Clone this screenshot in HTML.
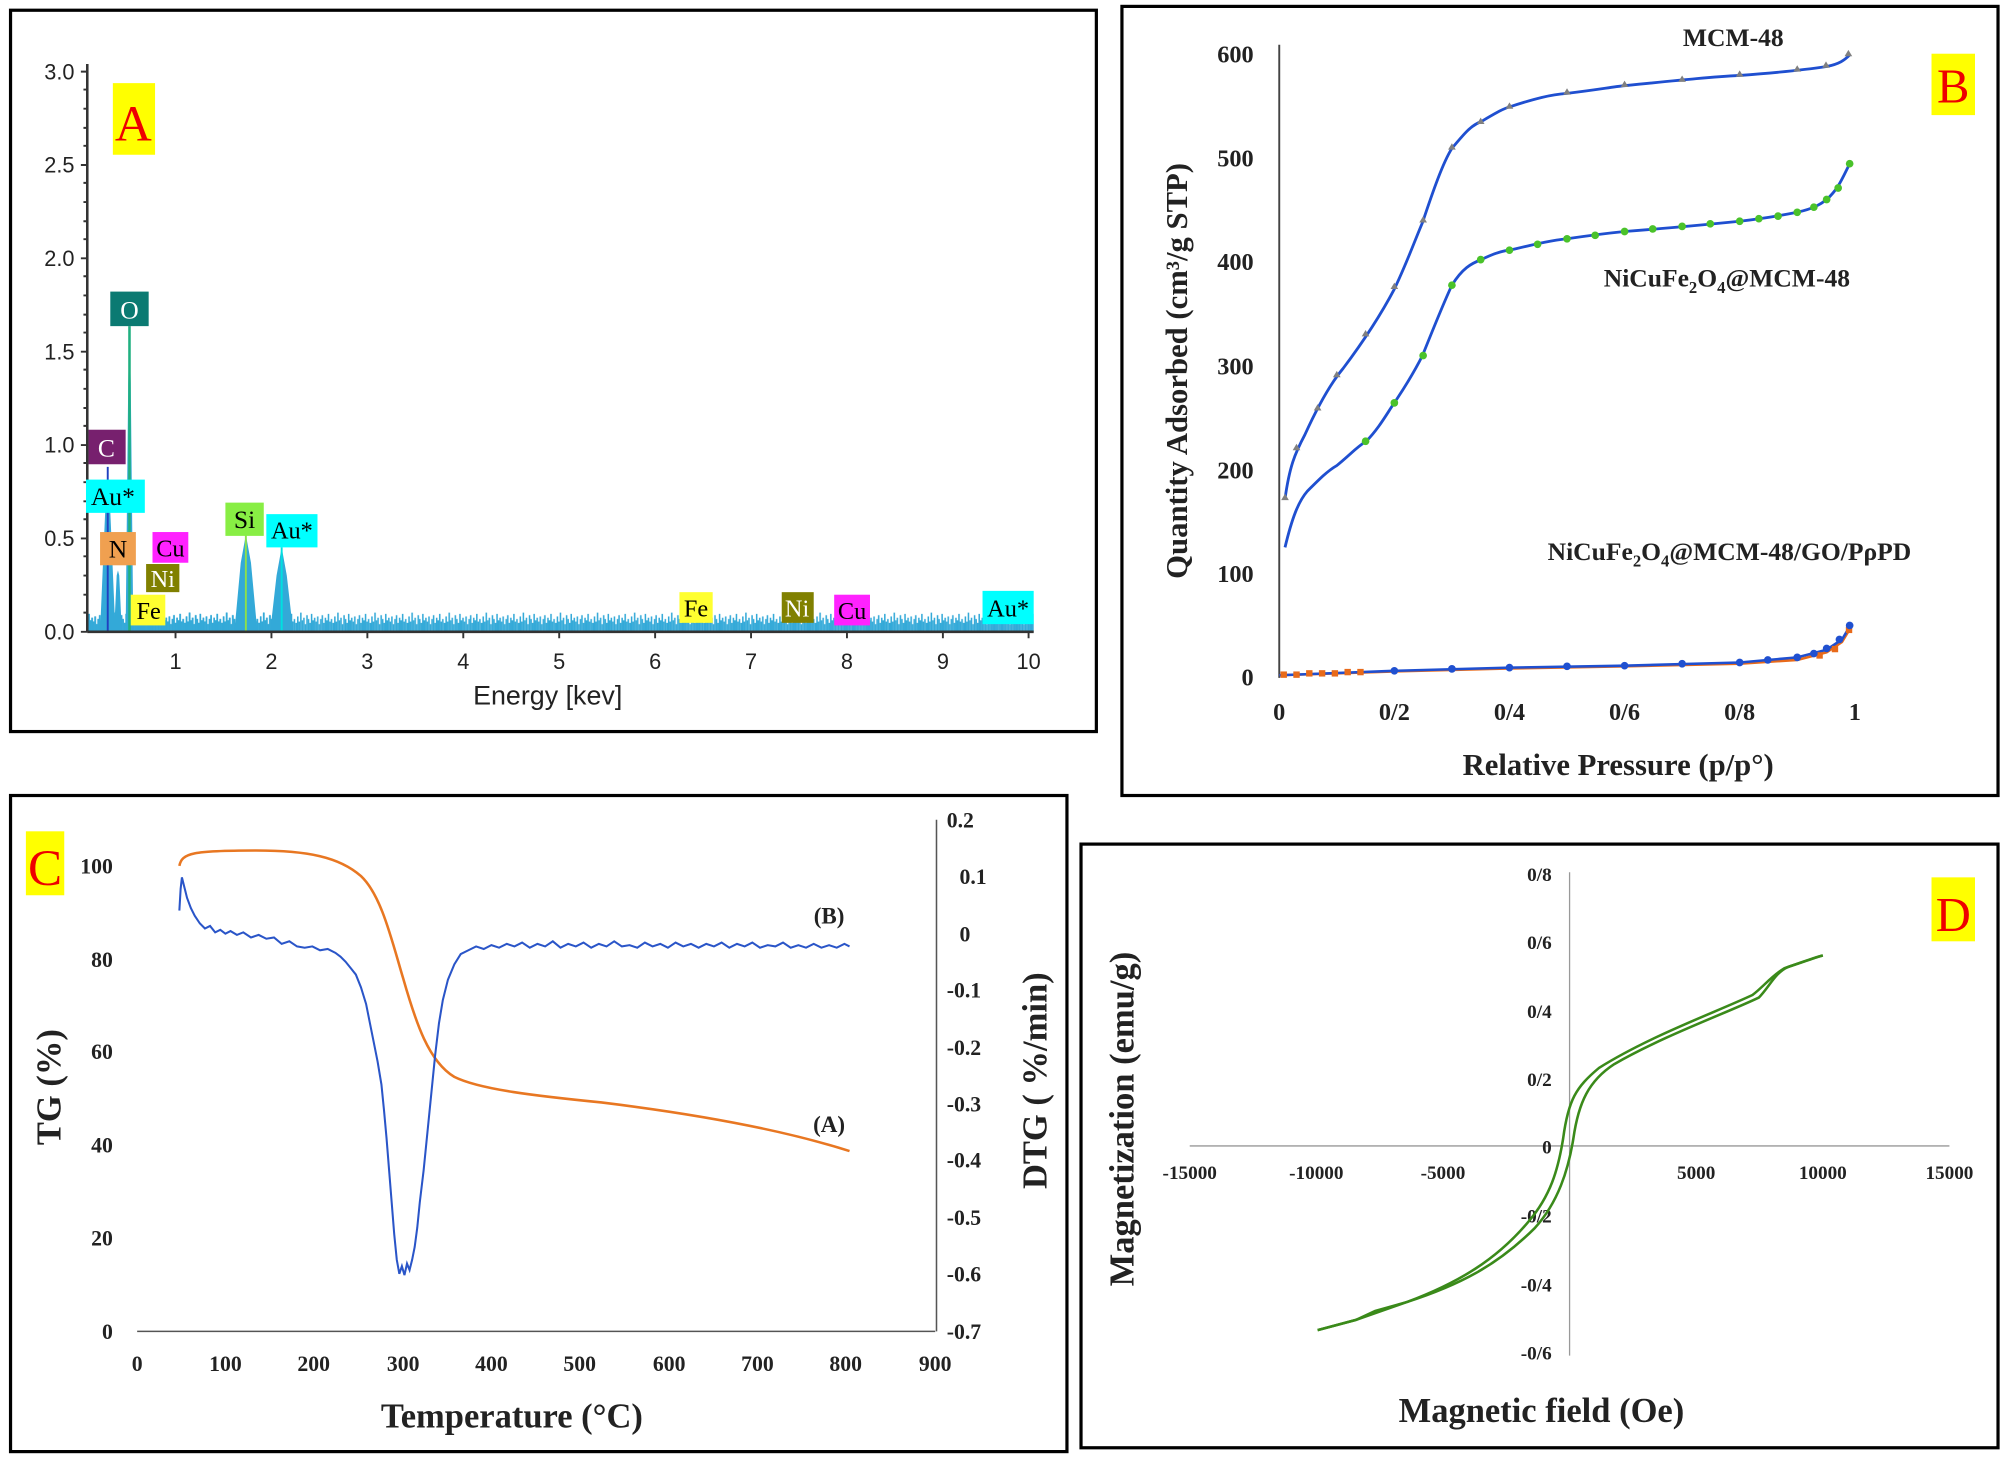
<!DOCTYPE html><html><head><meta charset="utf-8"><style>html,body{margin:0;padding:0;background:#fff}svg{display:block}</style></head><body>
<svg width="2006" height="1458" viewBox="0 0 1568 1140" xmlns="http://www.w3.org/2000/svg" font-family="Liberation Serif, serif">
<defs>
<pattern id="noise" x="0" y="494" width="29" height="30" patternUnits="userSpaceOnUse">
<rect x="0" y="18" width="1.2" height="12" fill="#33a9d8"/><rect x="1.2" y="22" width="1.2" height="8" fill="#33a9d8"/><rect x="2.4" y="15" width="1.2" height="15" fill="#33a9d8"/><rect x="3.6" y="21" width="1.2" height="9" fill="#33a9d8"/><rect x="4.8" y="19" width="1.2" height="11" fill="#33a9d8"/><rect x="6" y="24" width="1.2" height="6" fill="#33a9d8"/><rect x="7.2" y="17" width="1.2" height="13" fill="#33a9d8"/><rect x="8.4" y="20" width="1.2" height="10" fill="#33a9d8"/><rect x="9.6" y="23" width="1.2" height="7" fill="#33a9d8"/><rect x="10.8" y="16" width="1.2" height="14" fill="#33a9d8"/><rect x="12" y="21" width="1.2" height="9" fill="#33a9d8"/><rect x="13.2" y="19" width="1.2" height="11" fill="#33a9d8"/><rect x="14.4" y="22" width="1.2" height="8" fill="#33a9d8"/><rect x="15.6" y="18" width="1.2" height="12" fill="#33a9d8"/><rect x="16.8" y="24" width="1.2" height="6" fill="#33a9d8"/><rect x="18" y="20" width="1.2" height="10" fill="#33a9d8"/><rect x="19.2" y="17" width="1.2" height="13" fill="#33a9d8"/><rect x="20.4" y="23" width="1.2" height="7" fill="#33a9d8"/><rect x="21.6" y="19" width="1.2" height="11" fill="#33a9d8"/><rect x="22.8" y="21" width="1.2" height="9" fill="#33a9d8"/><rect x="24" y="16" width="1.2" height="14" fill="#33a9d8"/><rect x="25.2" y="22" width="1.2" height="8" fill="#33a9d8"/><rect x="26.4" y="20" width="1.2" height="10" fill="#33a9d8"/><rect x="27.6" y="23" width="1.4" height="7" fill="#33a9d8"/>
</pattern>
</defs>
<rect width="1568" height="1140" fill="#fff"/>
<!-- Panel A -->
<rect x="8" y="8" width="849" height="564" fill="none" stroke="#000" stroke-width="2.5"/>
<g font-family="Liberation Sans, sans-serif" font-size="17" fill="#222">
<rect x="69" y="470" width="739" height="24" fill="url(#noise)"/>
<rect x="69" y="466" width="160" height="28" fill="url(#noise)" transform="translate(0,0)"/>
<path d="M78,494 L82,400 L84,384 L86,400 L90,494 Z M89,494 L91,450 L92,446 L93,450 L95,494 Z M98,494 L100,300 L101,258 L102,300 L104,494 Z M183,494 L188,440 L192,418 L196,440 L201,494 Z M211,494 L216,450 L220,428 L224,450 L229,494 Z" fill="#33a9d8"/>
<line x1="101" y1="494" x2="101" y2="255" stroke="#20b080" stroke-width="2"/>
<line x1="84" y1="494" x2="84" y2="365" stroke="#2040c0" stroke-width="1.5"/>
<line x1="192" y1="494" x2="192" y2="418" stroke="#8de04a" stroke-width="1.5"/>
<line x1="220" y1="494" x2="220" y2="428" stroke="#00e0e0" stroke-width="1.5"/>
<line x1="68" y1="50" x2="68" y2="494" stroke="#333" stroke-width="2"/>
<line x1="68" y1="494" x2="808" y2="494" stroke="#333" stroke-width="2"/>
<path d="M63,494h5M63,421h5M63,348h5M63,275h5M63,202h5M63,129h5M63,56h5M65,479h3M65,465h3M65,450h3M65,435h3M65,406h3M65,392h3M65,377h3M65,362h3M65,333h3M65,319h3M65,304h3M65,289h3M65,260h3M65,246h3M65,231h3M65,216h3M65,187h3M65,173h3M65,158h3M65,143h3M65,114h3M65,100h3M65,85h3M65,70h3" stroke="#333" stroke-width="1.5"/>
<path d="M137,494v5M212,494v5M287,494v5M362,494v5M437,494v5M512,494v5M587,494v5M662,494v5M737,494v5M804,494v5" stroke="#333" stroke-width="1.5"/>
<g text-anchor="end"><text x="58" y="500">0.0</text><text x="58" y="427">0.5</text><text x="58" y="354">1.0</text><text x="58" y="281">1.5</text><text x="58" y="208">2.0</text><text x="58" y="135">2.5</text><text x="58" y="62">3.0</text></g>
<g text-anchor="middle"><text x="137" y="523">1</text><text x="212" y="523">2</text><text x="287" y="523">3</text><text x="362" y="523">4</text><text x="437" y="523">5</text><text x="512" y="523">6</text><text x="587" y="523">7</text><text x="662" y="523">8</text><text x="737" y="523">9</text><text x="804" y="523">10</text></g>
<text x="428" y="551" text-anchor="middle" font-size="21">Energy [kev]</text>
<rect x="88" y="65" width="33" height="56" fill="#ffff00"/><text x="104" y="110" text-anchor="middle" font-family="Liberation Serif, serif" font-size="40" fill="#e00">A</text>
<rect x="86" y="228" width="30" height="27" fill="#0b7a72"/><text x="101" y="249" text-anchor="middle" fill="#fff" font-size="20" font-family="Liberation Serif, serif">O</text>
<rect x="69" y="336" width="29" height="27" fill="#77206e"/><text x="83" y="357" text-anchor="middle" fill="#fff" font-size="20" font-family="Liberation Serif, serif">C</text>
<rect x="67" y="375" width="46" height="26" fill="#00ffff"/><text x="88" y="395" text-anchor="middle" fill="#000" font-size="20" font-family="Liberation Serif, serif">Au*</text>
<rect x="78" y="416" width="28" height="26" fill="#f0a050"/><text x="92" y="436" text-anchor="middle" fill="#000" font-size="20" font-family="Liberation Serif, serif">N</text>
<rect x="119" y="416" width="28" height="24" fill="#ff22ff"/><text x="133" y="435" text-anchor="middle" fill="#000" font-size="19" font-family="Liberation Serif, serif">Cu</text>
<rect x="114" y="441" width="26" height="22" fill="#808000"/><text x="127" y="459" text-anchor="middle" fill="#fff" font-size="19" font-family="Liberation Serif, serif">Ni</text>
<rect x="102" y="465" width="27" height="24" fill="#ffff30"/><text x="116" y="484" text-anchor="middle" fill="#000" font-size="19" font-family="Liberation Serif, serif">Fe</text>
<rect x="176" y="393" width="30" height="26" fill="#88ee44"/><text x="191" y="413" text-anchor="middle" fill="#000" font-size="20" font-family="Liberation Serif, serif">Si</text>
<rect x="208" y="402" width="40" height="26" fill="#00ffff"/><text x="228" y="421" text-anchor="middle" fill="#000" font-size="19" font-family="Liberation Serif, serif">Au*</text>
<rect x="531" y="463" width="26" height="24" fill="#ffff30"/><text x="544" y="482" text-anchor="middle" fill="#000" font-size="19" font-family="Liberation Serif, serif">Fe</text>
<rect x="611" y="463" width="25" height="24" fill="#808000"/><text x="623" y="482" text-anchor="middle" fill="#fff" font-size="19" font-family="Liberation Serif, serif">Ni</text>
<rect x="652" y="465" width="28" height="24" fill="#ff22ff"/><text x="666" y="484" text-anchor="middle" fill="#000" font-size="19" font-family="Liberation Serif, serif">Cu</text>
<rect x="768" y="462" width="40" height="26" fill="#00ffff"/><text x="788" y="482" text-anchor="middle" fill="#000" font-size="19" font-family="Liberation Serif, serif">Au*</text>
</g>
<!-- Panel B -->
<rect x="877" y="5" width="685" height="617" fill="none" stroke="#000" stroke-width="2.5"/>
<g font-weight="bold" font-size="19" fill="#222">
<line x1="1000" y1="35" x2="1000" y2="530" stroke="#444" stroke-width="1.5"/>
<g text-anchor="end"><text x="980" y="536">0</text><text x="980" y="455">100</text><text x="980" y="374">200</text><text x="980" y="293">300</text><text x="980" y="211">400</text><text x="980" y="130">500</text><text x="980" y="49">600</text></g>
<g text-anchor="middle"><text x="1000" y="563">0</text><text x="1090" y="563">0/2</text><text x="1180" y="563">0/4</text><text x="1270" y="563">0/6</text><text x="1360" y="563">0/8</text><text x="1450" y="563">1</text></g>
<text x="1265" y="606" text-anchor="middle" font-size="24">Relative Pressure (p/p°)</text>
<text transform="translate(928,290) rotate(-90)" text-anchor="middle" font-size="24">Quantity Adsorbed (cm³/g STP)</text>
<text x="1355" y="36" text-anchor="middle" font-size="20">MCM-48</text>
<text x="1350" y="224" text-anchor="middle" font-size="20">NiCuFe<tspan font-size="13" dy="5">2</tspan><tspan dy="-5">O</tspan><tspan font-size="13" dy="5">4</tspan><tspan dy="-5">@MCM-48</tspan></text>
<text x="1352" y="438" text-anchor="middle" font-size="20">NiCuFe<tspan font-size="13" dy="5">2</tspan><tspan dy="-5">O</tspan><tspan font-size="13" dy="5">4</tspan><tspan dy="-5">@MCM-48/GO/PρPD</tspan></text>
<rect x="1510" y="42" width="34" height="48" fill="#ffff00"/><text x="1527" y="80" text-anchor="middle" font-size="38" font-weight="normal" fill="#e00">B</text>
<path d="M1004.5,390 C1008,365 1012,355 1020,340 C1030,318 1040,300 1050,288 C1065,268 1080,245 1090,226 C1100,205 1106,188 1112,174 C1120,150 1128,127 1135,116 C1145,104 1150,98 1158,95 C1170,88 1175,85 1180,83.6 C1200,77 1212,74 1225,73 C1250,70 1260,68 1270,67 C1320,62 1340,60 1360,59 C1400,56 1415,54 1428,52 C1438,50 1442,47 1446,43" fill="none" stroke="#1f4fd0" stroke-width="2.2"/>
<g fill="#808080"><path d="M1004.5,386l3,5h-6zM1013.5,347l3,5h-6zM1030,316l3,5h-6zM1045,290l3,5h-6zM1067.5,258l3,5h-6zM1090,221l3,5h-6zM1112.5,169l3,5h-6zM1135,112l3,5h-6zM1157.5,92l3,5h-6zM1180,80l3,5h-6zM1225,69l3,5h-6zM1270,63l3,5h-6zM1315,59l3,5h-6zM1360,55l3,5h-6zM1405,51l3,5h-6zM1427.5,48l3,5h-6zM1445,39l3,5h-6z"/></g>
<path d="M1004.5,428 C1010,405 1015,392 1022,384 C1032,374 1038,368 1045,364 C1055,356 1060,350 1068,345 C1078,335 1085,322 1090,315 C1100,300 1106,290 1112,278 C1120,258 1128,238 1135,223 C1143,210 1150,206 1158,203 C1168,198 1175,196 1180,195.6 C1200,191 1212,188 1225,186.7 C1250,183 1260,182 1270,181 C1310,178 1340,175 1360,173 C1385,170 1395,168 1405,166 C1418,163 1423,160 1428,156 C1437,148 1440,140 1446,128" fill="none" stroke="#1f4fd0" stroke-width="2.2"/>
<g fill="#4ac22a"><circle cx="1067.5" cy="345" r="3"/><circle cx="1090" cy="315" r="3"/><circle cx="1112.5" cy="278" r="3"/><circle cx="1135" cy="223" r="3"/><circle cx="1157.5" cy="203" r="3"/><circle cx="1180" cy="195.6" r="3"/><circle cx="1202" cy="191" r="3"/><circle cx="1225" cy="186.7" r="3"/><circle cx="1247" cy="184" r="3"/><circle cx="1270" cy="181" r="3"/><circle cx="1292" cy="179" r="3"/><circle cx="1315" cy="177" r="3"/><circle cx="1337" cy="175" r="3"/><circle cx="1360" cy="173" r="3"/><circle cx="1375" cy="171" r="3"/><circle cx="1390" cy="169" r="3"/><circle cx="1405" cy="166" r="3"/><circle cx="1418" cy="162" r="3"/><circle cx="1428" cy="156" r="3"/><circle cx="1437" cy="147" r="3"/><circle cx="1446" cy="128" r="3"/></g>
<path d="M1000,528 L1090,525 L1180,522.7 L1270,521 L1360,519 L1405,516 L1428,510 L1440,502 L1446,492" fill="none" stroke="#e86a1a" stroke-width="2"/>
<path d="M1000,528 L1090,524.5 L1180,522 L1270,520.5 L1360,518 L1405,514 L1428,508 L1440,500 L1446,490" fill="none" stroke="#1f4fd0" stroke-width="2"/>
<g fill="#e86a1a"><rect x="1001" y="525" width="5" height="5"/><rect x="1011" y="525" width="5" height="5"/><rect x="1021" y="524" width="5" height="5"/><rect x="1031" y="524" width="5" height="5"/><rect x="1041" y="524" width="5" height="5"/><rect x="1051" y="523" width="5" height="5"/><rect x="1061" y="523" width="5" height="5"/><rect x="1420" y="510" width="5" height="5"/><rect x="1432" y="505" width="5" height="5"/><rect x="1443" y="490" width="5" height="5"/></g>
<g fill="#2050d0"><circle cx="1090" cy="524.5" r="3"/><circle cx="1135" cy="523" r="3"/><circle cx="1180" cy="522" r="3"/><circle cx="1225" cy="521" r="3"/><circle cx="1270" cy="520.5" r="3"/><circle cx="1315" cy="519" r="3"/><circle cx="1360" cy="518" r="3"/><circle cx="1382" cy="516" r="3"/><circle cx="1405" cy="514" r="3"/><circle cx="1418" cy="511" r="3"/><circle cx="1428" cy="507" r="3"/><circle cx="1438" cy="500" r="3"/><circle cx="1446" cy="489" r="3"/></g>
</g>
<!-- Panel C -->
<rect x="8" y="622" width="826" height="513" fill="none" stroke="#000" stroke-width="2.5"/>
<g font-weight="bold" font-size="17" fill="#222">
<line x1="107" y1="1041" x2="731" y2="1041" stroke="#555" stroke-width="1.2"/>
<line x1="732" y1="641" x2="732" y2="1041" stroke="#555" stroke-width="1.2"/>
<g text-anchor="end"><text x="88" y="1047">0</text><text x="88" y="974">20</text><text x="88" y="901">40</text><text x="88" y="828">60</text><text x="88" y="756">80</text><text x="88" y="683">100</text></g>
<g text-anchor="start"><text x="740" y="647">0.2</text><text x="750" y="691">0.1</text><text x="750" y="736">0</text><text x="740" y="780">-0.1</text><text x="740" y="825">-0.2</text><text x="740" y="869">-0.3</text><text x="740" y="913">-0.4</text><text x="740" y="958">-0.5</text><text x="740" y="1002">-0.6</text><text x="740" y="1047">-0.7</text></g>
<g text-anchor="middle"><text x="107" y="1072">0</text><text x="176" y="1072">100</text><text x="245" y="1072">200</text><text x="315" y="1072">300</text><text x="384" y="1072">400</text><text x="453" y="1072">500</text><text x="523" y="1072">600</text><text x="592" y="1072">700</text><text x="661" y="1072">800</text><text x="731" y="1072">900</text></g>
<text x="400" y="1116" text-anchor="middle" font-size="27">Temperature (°C)</text>
<text transform="translate(47,850) rotate(-90)" text-anchor="middle" font-size="27">TG (%)</text>
<text transform="translate(818,845) rotate(-90)" text-anchor="middle" font-size="27">DTG ( %/min)</text>
<text x="648" y="722" text-anchor="middle" font-size="18">(B)</text>
<text x="648" y="885" text-anchor="middle" font-size="18">(A)</text>
<rect x="20" y="650" width="30" height="50" fill="#ffff00"/><text x="35" y="692" text-anchor="middle" font-size="40" font-weight="normal" fill="#e00">C</text>
<path d="M140,677 C142,667 150,665 200,665 C240,665 265,670 282,685 C298,700 306,735 315,765 C325,800 335,830 355,842 C375,852 420,857 470,862 C560,873 620,886 664,900" fill="none" stroke="#e87722" stroke-width="2"/>
<path d="M140,712 L141,695 L142,686 L144,694 L146,702 L149,710 L152,716 L156,722 L160,726 L164,724 L168,729 L172,727 L176,730 L180,728 L185,731 L190,729 L196,733 L202,731 L208,734 L214,733 L220,738 L226,736 L232,740 L238,741 L244,740 L250,743 L256,742 L262,745 L266,748 L270,752 L274,757 L278,762 L282,772 L286,785 L289,800 L292,815 L295,830 L298,848 L300,868 L302,890 L304,915 L306,940 L308,965 L310,985 L312,996 L314,990 L316,997 L318,988 L320,993 L322,985 L324,975 L326,960 L328,940 L331,915 L334,885 L337,855 L340,825 L343,800 L346,782 L350,766 L355,754 L360,746 L366,743 L372,740 L378,742 L384,739 L390,741 L396,738 L402,740 L408,737 L414,741 L420,738 L426,740 L432,736 L438,741 L444,738 L450,740 L456,737 L462,741 L468,738 L474,740 L480,736 L486,740 L492,739 L498,741 L504,737 L510,740 L516,738 L522,741 L528,737 L534,740 L540,738 L546,741 L552,738 L558,740 L564,737 L570,741 L576,738 L582,740 L588,737 L594,741 L600,739 L606,740 L612,737 L618,741 L624,739 L630,741 L636,738 L642,741 L648,739 L654,741 L660,738 L664,740" fill="none" stroke="#2a55c8" stroke-width="1.6"/>
</g>
<!-- Panel D -->
<rect x="845" y="660" width="717" height="472" fill="none" stroke="#000" stroke-width="2.5"/>
<g font-weight="bold" font-size="15" fill="#222">
<line x1="930" y1="896" x2="1524" y2="896" stroke="#999" stroke-width="1"/>
<line x1="1227" y1="682" x2="1227" y2="1060" stroke="#999" stroke-width="1"/>
<g text-anchor="middle"><text x="930" y="922">-15000</text><text x="1029" y="922">-10000</text><text x="1128" y="922">-5000</text><text x="1326" y="922">5000</text><text x="1425" y="922">10000</text><text x="1524" y="922">15000</text></g>
<g text-anchor="end"><text x="1213" y="689">0/8</text><text x="1213" y="742">0/6</text><text x="1213" y="796">0/4</text><text x="1213" y="849">0/2</text><text x="1213" y="902">0</text><text x="1213" y="956">-0/2</text><text x="1213" y="1010">-0/4</text><text x="1213" y="1063">-0/6</text></g>
<text x="1205" y="1112" text-anchor="middle" font-size="27">Magnetic field (Oe)</text>
<text transform="translate(886,875) rotate(-90)" text-anchor="middle" font-size="27">Magnetization (emu/g)</text>
<rect x="1510" y="686" width="34" height="50" fill="#ffff00"/><text x="1527" y="728" text-anchor="middle" font-size="38" font-weight="normal" fill="#e00">D</text>
<path d="M1030,1040 L1060,1032 L1075,1025 L1100,1018 C1140,1003 1170,985 1195,955 C1212,935 1218,915 1222,890 C1226,860 1232,850 1250,835 C1290,810 1340,792 1370,778 C1378,772 1385,763 1395,757 C1410,752 1418,749 1425,747" fill="none" stroke="#3a8a1a" stroke-width="2"/>
<path d="M1030,1040 L1060,1032 L1100,1018 C1140,1005 1170,990 1200,960 C1218,940 1226,915 1230,890 C1234,862 1242,845 1262,832 C1300,810 1350,792 1375,780 C1383,772 1388,760 1398,756 C1410,752 1418,749 1425,747" fill="none" stroke="#3a8a1a" stroke-width="2"/>
</g>
</svg>
</body></html>
